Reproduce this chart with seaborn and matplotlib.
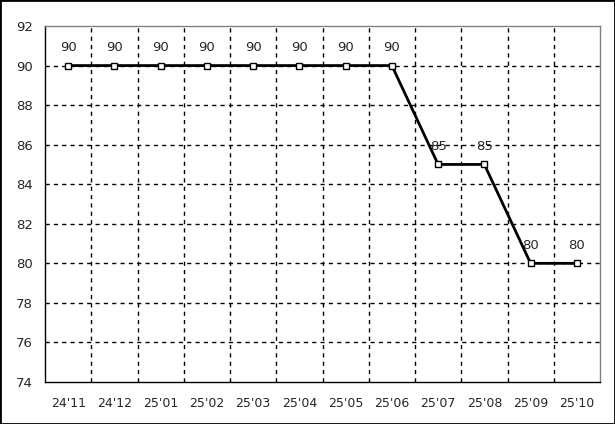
import pandas as pd
import seaborn as sns
import matplotlib.pyplot as plt
from matplotlib.patches import Rectangle

months = ["24'11", "24'12", "25'01", "25'02", "25'03", "25'04",
          "25'05", "25'06", "25'07", "25'08", "25'09", "25'10"]
values = [90, 90, 90, 90, 90, 90, 90, 90, 85, 85, 80, 80]

df = pd.DataFrame({"month": months, "value": values})

sns.set_style("white")
plt.rcParams["font.family"] = ["DejaVu Sans"]

fig = plt.figure(figsize=(6.15, 4.24), dpi=100)
ax = fig.add_axes([45 / 615, 42 / 424, 555 / 615, 356 / 424])

sns.lineplot(data=df, x="month", y="value", ax=ax, color="black", linewidth=2,
             marker="s", markersize=5, markerfacecolor="white",
             markeredgecolor="black", markeredgewidth=1, sort=False)

for i, v in enumerate(values):
    ax.annotate(str(v), (i, v), xytext=(0, 8.5), textcoords="offset points",
                ha="center", va="bottom", fontsize=9.5)

ax.set_xlim(-0.5, len(months) - 0.5)
ax.set_ylim(74, 92)
ax.set_yticks(range(74, 93, 2))
ax.set_xticks(range(len(months)))
ax.set_xticklabels(months)
ax.tick_params(axis="both", length=0, labelsize=9)
ax.tick_params(axis="y", labelsize=9.5)
ax.tick_params(axis="x", pad=10.5)
ax.tick_params(axis="y", pad=8.5)
ax.set_xlabel("")
ax.set_ylabel("")

for y in range(76, 92, 2):
    ax.axhline(y, color="black", linestyle=(0, (3, 3)), linewidth=1, zorder=0)
for x in range(len(months) - 1):
    ax.axvline(x + 0.5, color="black", linestyle=(0, (3, 3)), linewidth=1, zorder=0)

ax.spines["left"].set_color("black")
ax.spines["bottom"].set_color("black")
ax.spines["top"].set_color("#808080")
ax.spines["right"].set_color("#808080")
for s in ax.spines.values():
    s.set_linewidth(1)

fig.patches.append(Rectangle((0, 0), 1, 1, transform=fig.transFigure,
                             fill=False, edgecolor="black", linewidth=2))

fig.savefig("out.png", dpi=100)
